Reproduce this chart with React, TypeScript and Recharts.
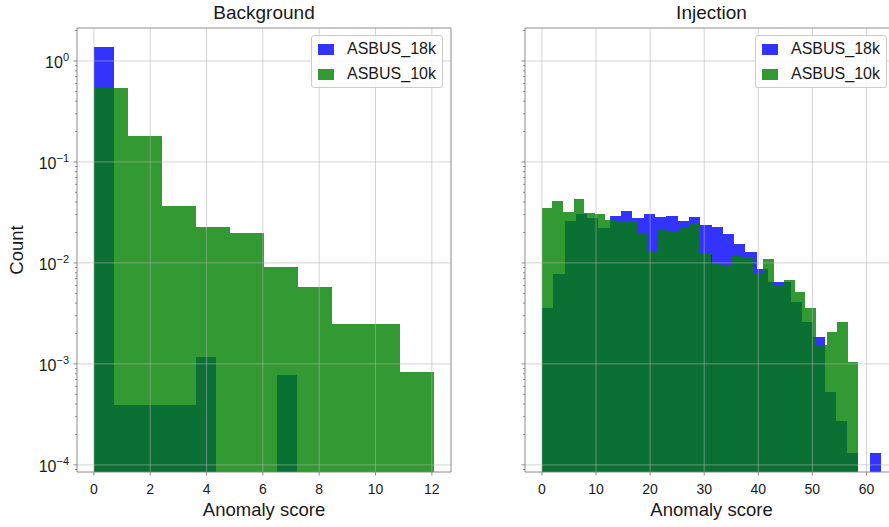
import React from 'react';
import { ComposedChart, XAxis, YAxis, ReferenceArea, ReferenceLine } from 'recharts';

const FONT = '"Liberation Sans", Arial, Helvetica, sans-serif';
const SPINE = '#808080';
const TEXT = '#1a1a1a';
const BLUE = '#0000ff';
const GREEN = '#008000';

// shared log y range (density)
const Y_MIN = 8.5e-5;
const Y_MAX = 2.12;
const Y_DECADES = [1e-4, 1e-3, 1e-2, 1e-1, 1];

// ---- Background panel ----
const bgEdges18k = [0, 0.722, 1.444, 2.166, 2.888, 3.61, 4.332, 5.054, 5.776, 6.498, 7.22];
const bgDensity18k = [1.36, 0.00039, 0.00039, 0.00039, 0.00039, 0.00117, 0, 0, 0, 0.00078];
const bgEdges10k = [0, 1.208, 2.416, 3.624, 4.832, 6.04, 7.248, 8.456, 9.664, 10.872, 12.08];
const bgDensity10k = [0.54, 0.18, 0.037, 0.0226, 0.0197, 0.00906, 0.00575, 0.00249, 0.00249, 0.00083];
const bgXTicks = [0, 2, 4, 6, 8, 10, 12];
const bgXDomain: [number, number] = [-0.6, 12.68];

// ---- Injection panel ----
const injEdges18k = [
  0, 2.09, 4.18, 6.27, 8.36, 10.45, 12.54, 14.63, 16.72, 18.81, 20.9, 22.99, 25.08, 27.17, 29.26, 31.35,
  33.44, 35.53, 37.62, 39.71, 41.8, 43.89, 45.98, 48.07, 50.16, 52.25, 54.34, 56.43, 58.52, 60.61, 62.7,
];
const injDensity18k = [
  0.0036, 0.0078, 0.026, 0.0303, 0.0281, 0.0224, 0.0294, 0.0327, 0.0277, 0.0303,
  0.0285, 0.0292, 0.026, 0.0283, 0.0238, 0.0226, 0.0192, 0.0153, 0.0129, 0.0087,
  0.0064, 0.0064, 0.0041, 0.00257, 0.00186, 0.00053, 0.00027, 0.00013, 0, 0.00013,
];
const injEdges10k = [
  0, 1.95, 3.9, 5.85, 7.79, 9.74, 11.69, 13.64, 15.59, 17.54, 19.49, 21.44, 23.38, 25.33, 27.28, 29.23,
  31.18, 33.13, 35.08, 37.03, 38.97, 40.92, 42.87, 44.82, 46.77, 48.72, 50.67, 52.62, 54.56, 56.51, 58.46,
];
const injDensity10k = [
  0.0348, 0.0408, 0.032, 0.0433, 0.031, 0.0305, 0.0267, 0.0255, 0.0255, 0.0195,
  0.0128, 0.0214, 0.0204, 0.0222, 0.0249, 0.0122, 0.0098, 0.0093, 0.0117, 0.0111,
  0.0078, 0.0109, 0.0061, 0.0067, 0.0051, 0.0036, 0.00154, 0.00206, 0.00259, 0.00104,
];
const injXTicks = [0, 10, 20, 30, 40, 50, 60];
const injXDomain: [number, number] = [-3.13, 65.83];

const legendNames = ['ASBUS_18k', 'ASBUS_10k'];

// major decades plus 2..9 minor ticks inside the range
const yTicks: number[] = [];
[1e-5, 1e-4, 1e-3, 1e-2, 1e-1, 1].forEach((d) => {
  for (let m = 1; m < 10; m++) {
    const v = d * m;
    if (v >= Y_MIN && v <= Y_MAX) yTicks.push(v);
  }
});

const XTick = (props: any) => {
  const { x, y, payload } = props;
  return (
    <g>
      <line x1={x} x2={x} y1={y} y2={y + 3.5} stroke={SPINE} strokeWidth={0.9} />
      <text x={x} y={y + 22} textAnchor="middle" fontSize={14} fontFamily={FONT} fill={TEXT}>
        {payload.value}
      </text>
    </g>
  );
};

const YTick = (props: any) => {
  const { x, y, payload, showLabel } = props;
  const lg = Math.log10(payload.value);
  const exp = Math.round(lg);
  const major = Math.abs(lg - exp) < 1e-6;
  return (
    <g>
      <line x1={x} x2={x - (major ? 3.5 : 2)} y1={y} y2={y} stroke={SPINE} strokeWidth={0.9} />
      {major && showLabel && (
        <text x={x - 8} y={y + 7} textAnchor="end" fontSize={16} fontFamily={FONT} fill={TEXT}>
          10
          <tspan dy={-7} fontSize={11}>
            {exp < 0 ? `\u2212${-exp}` : exp}
          </tspan>
        </text>
      )}
    </g>
  );
};

type Hist = { edges: number[]; values: number[]; color: string };

const Panel = ({
  left,
  width,
  yAxisWidth,
  marginRight,
  xDomain,
  xTicks,
  hists,
  showYLabels,
}: {
  left: number;
  width: number;
  yAxisWidth: number;
  marginRight: number;
  xDomain: [number, number];
  xTicks: number[];
  hists: Hist[];
  showYLabels: boolean;
}) => (
  <div style={{ position: 'absolute', left, top: 0 }}>
    <ComposedChart width={width} height={527} margin={{ top: 28, right: marginRight, bottom: 0, left: 0 }}>
      <XAxis
        type="number"
        dataKey="x"
        domain={xDomain}
        allowDataOverflow
        ticks={xTicks}
        interval={0}
        height={55}
        tickSize={0}
        tickMargin={0}
        tickLine={false}
        axisLine={{ stroke: SPINE, strokeWidth: 0.9 }}
        tick={<XTick />}
      />
      <YAxis
        type="number"
        scale="log"
        domain={[Y_MIN, Y_MAX]}
        allowDataOverflow
        ticks={yTicks}
        interval={0}
        width={yAxisWidth}
        tickSize={0}
        tickMargin={0}
        tickLine={false}
        axisLine={{ stroke: SPINE, strokeWidth: 0.9 }}
        tick={<YTick showLabel={showYLabels} />}
      />
      {/* histogram bins, blue underneath, green drawn over it */}
      {hists.map((h, hi) =>
        h.values.map((v, i) =>
          v > 0 ? (
            <ReferenceArea
              key={`h${hi}-${i}`}
              x1={h.edges[i]}
              x2={h.edges[i + 1]}
              y1={Y_MIN}
              y2={v}
              fill={h.color}
              fillOpacity={0.8}
              stroke="none"
              shapeRendering="crispEdges"
              ifOverflow="hidden"
            />
          ) : null
        )
      )}
      {xTicks.map((t) => (
        <ReferenceLine key={`gx${t}`} x={t} stroke="#b0b0b0" strokeOpacity={0.55} strokeWidth={1} />
      ))}
      {Y_DECADES.map((t) => (
        <ReferenceLine key={`gy${t}`} y={t} stroke="#b0b0b0" strokeOpacity={0.55} strokeWidth={1} />
      ))}
      <ReferenceLine x={xDomain[1]} stroke={SPINE} strokeWidth={0.9} />
      <ReferenceLine y={Y_MAX} stroke={SPINE} strokeWidth={0.9} />
    </ComposedChart>
  </div>
);

const LegendBox = ({ left }: { left: number }) => (
  <div
    style={{
      position: 'absolute',
      left,
      top: 35,
      width: 130,
      height: 51,
      border: '1px solid #cccccc',
      borderRadius: 3,
      background: 'rgba(255,255,255,0.8)',
      fontSize: 16,
      color: TEXT,
    }}
  >
    {legendNames.map((name, i) => (
      <div key={name} style={{ position: 'absolute', left: 6, top: 6 + i * 25, height: 14, display: 'flex', alignItems: 'center' }}>
        <div
          style={{
            width: 16,
            height: 11,
            background: i === 0 ? BLUE : GREEN,
            opacity: 0.8,
          }}
        />
        <span style={{ marginLeft: 13, lineHeight: '14px', whiteSpace: 'nowrap' }}>{name}</span>
      </div>
    ))}
  </div>
);

export default function App() {
  return (
    <div
      style={{
        position: 'absolute',
        left: 0,
        top: 0,
        width: 889,
        height: 527,
        overflow: 'hidden',
        background: '#ffffff',
        fontFamily: FONT,
        color: TEXT,
      }}
    >
      <Panel
        left={0}
        width={460}
        yAxisWidth={77}
        marginRight={9}
        xDomain={bgXDomain}
        xTicks={bgXTicks}
        showYLabels
        hists={[
          { edges: bgEdges18k, values: bgDensity18k, color: BLUE },
          { edges: bgEdges10k, values: bgDensity10k, color: GREEN },
        ]}
      />
      <Panel
        left={460}
        width={445}
        yAxisWidth={65}
        marginRight={7}
        xDomain={injXDomain}
        xTicks={injXTicks}
        showYLabels={false}
        hists={[
          { edges: injEdges18k, values: injDensity18k, color: BLUE },
          { edges: injEdges10k, values: injDensity10k, color: GREEN },
        ]}
      />

      <div style={{ position: 'absolute', left: 77, width: 374, top: 2, textAlign: 'center', fontSize: 19, lineHeight: '22px' }}>
        Background
      </div>
      <div style={{ position: 'absolute', left: 525, width: 373, top: 2, textAlign: 'center', fontSize: 19, lineHeight: '22px' }}>
        Injection
      </div>

      <div style={{ position: 'absolute', left: 77, width: 374, top: 499, textAlign: 'center', fontSize: 18.5, lineHeight: '22px' }}>
        Anomaly score
      </div>
      <div style={{ position: 'absolute', left: 525, width: 373, top: 499, textAlign: 'center', fontSize: 18.5, lineHeight: '22px' }}>
        Anomaly score
      </div>

      <div
        style={{
          position: 'absolute',
          left: 17 - 40,
          top: 250 - 11,
          width: 80,
          textAlign: 'center',
          fontSize: 18.5,
          lineHeight: '22px',
          transform: 'rotate(-90deg)',
        }}
      >
        Count
      </div>

      <LegendBox left={311} />
      <LegendBox left={755} />
    </div>
  );
}
